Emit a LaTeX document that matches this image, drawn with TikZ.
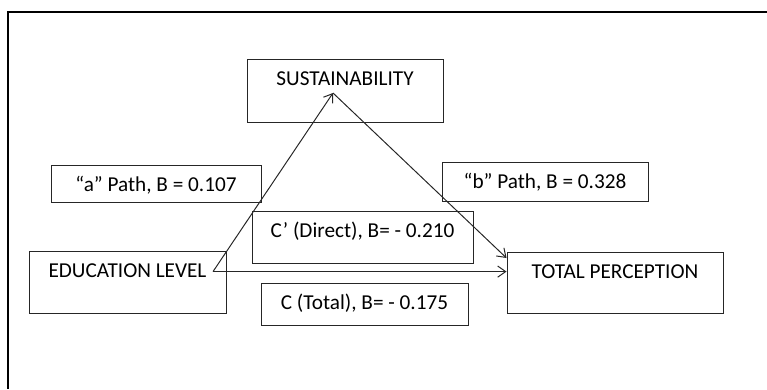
\documentclass[tikz,border=0pt]{standalone}
\usepackage{fontspec}
\setmainfont{Carlito}
\usetikzlibrary{arrows.meta}

\begin{document}
\begin{tikzpicture}
%define
\tikzstyle{state_box} = [rectangle, anchor=north, inner sep=0pt, text height=0.65cm, text centered, draw=black!85, line width=0.7pt, font=\fontsize{15.1}{18}\selectfont]
\tikzstyle{arrow} = [-{Straight Barb[length=0.2cm, width=0.28cm]}, draw=black!85, line width=0.7pt]

\useasboundingbox (0,0) rectangle (19.175,-9.725);
%frame
\draw[line width=1.1pt](19.175,-0.3)--(0.2,-0.3)--(0.2,-9.725);

\node[state_box, minimum width=4.9cm, text depth=0.925cm] (state_Sus) at (8.625,-1.475) {SUSTAINABILITY};
\node[state_box, minimum width=4.925cm, text depth=0.9cm] (state_Edu) at (3.1875,-6.275) {EDUCATION LEVEL};
\node[state_box, minimum width=5.4cm, text depth=0.875cm] (state_Tot) at (15.375,-6.3) {TOTAL PERCEPTION};
\node[state_box, minimum width=5.25cm, text depth=0.275cm] (state_A) at (3.9,-4.125) {“a” Path, B = 0.107};
\node[state_box, minimum width=5.15cm, text depth=0.325cm] (state_B) at (13.625,-4.05) {“b” Path, B = 0.328};
\node[state_box, minimum width=5.525cm, text depth=0.65cm] (state_Direct) at (9.0625,-5.275) {C’ (Direct), B= - 0.210};
\node[state_box, minimum width=5.175cm, text depth=0.4cm] (state_Total) at (9.1125,-7.075) {C (Total), B= - 0.175};

%ports
\coordinate (edu_out) at (5.325,-6.79);
\coordinate (sus_port) at (8.325,-2.325);
\coordinate (tot_in) at ([yshift=-0.15cm]state_Tot.north west);
%line
\draw[arrow](edu_out)--(sus_port); %Edu->Sus
\draw[arrow](sus_port)--(tot_in); %Sus->Tot
\draw[arrow](edu_out)--(state_Tot.west |- edu_out); %Edu->Tot

\end{tikzpicture}
\end{document}
